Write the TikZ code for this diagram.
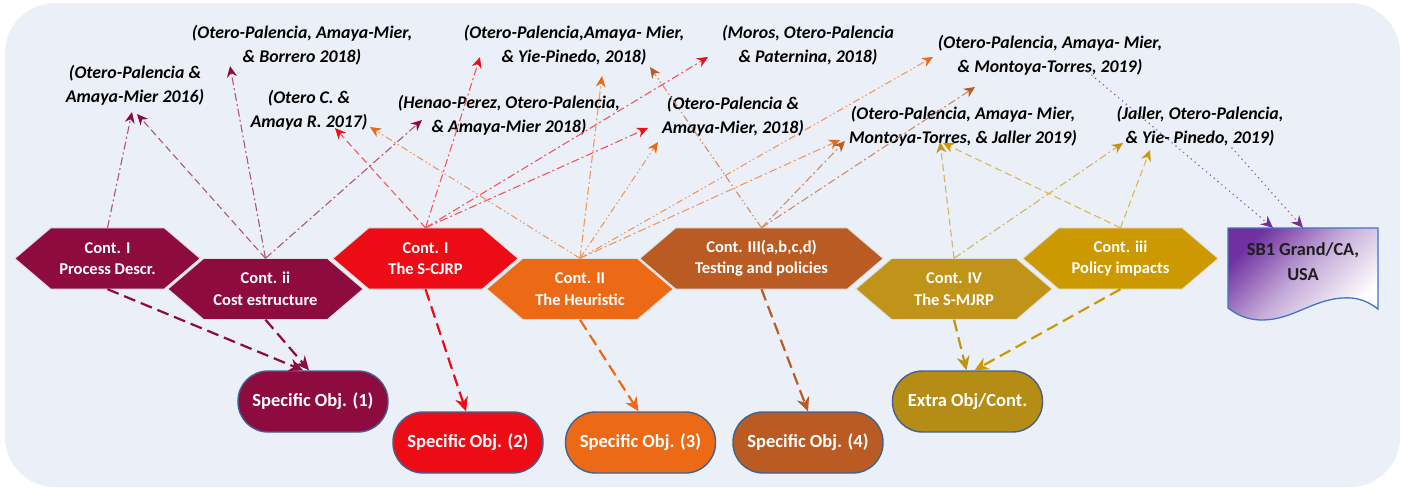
\documentclass[tikz,border=0pt]{standalone}
\usepackage{fontspec}
\setmainfont{Carlito}
\usetikzlibrary{arrows.meta,calc}
\pgfdeclarelayer{back}
\pgfsetlayers{back,main}

\definecolor{cbg}{RGB}{235,240,248}
\definecolor{cmaroon}{RGB}{142,11,64}
\definecolor{cred}{RGB}{237,12,22}
\definecolor{corange}{RGB}{236,106,22}
\definecolor{cbrown}{RGB}{185,91,35}
\definecolor{colive}{RGB}{191,148,24}
\definecolor{cgold}{RGB}{204,153,0}
\definecolor{cextra}{RGB}{180,140,22}
\definecolor{cpurple}{RGB}{112,48,160}
\definecolor{cborder}{RGB}{65,98,145}
\definecolor{cdocline}{RGB}{68,114,196}
\definecolor{cdoctext}{RGB}{30,30,30}

\newcommand\reffont{\fontsize{17.8}{24}\selectfont\bfseries\itshape}
\newcommand\hexfont{\fontsize{16.5}{21.5}\selectfont\bfseries}
\newcommand\objfont{\fontsize{18.5}{22}\selectfont\bfseries}
\newcommand\docfont{\fontsize{18.3}{25}\selectfont\bfseries}

\begin{document}
\begin{tikzpicture}[x=1pt,y=-1pt,
  hexbox/.style={minimum height=61pt, inner sep=0pt, text=white, font=\hexfont, align=center},
  objbox/.style={minimum width=150pt, minimum height=61pt, rounded corners=30pt, inner sep=0pt,
    text=white, font=\objfont, draw=cborder, line width=1.4pt},
  citation/.style={font=\reffont, align=center, text=black, inner sep=1pt},
  toplink/.style={line width=1.1pt, draw=#1!70!white, -{Stealth[length=11pt,width=10pt,color=#1]}},
  objlink/.style={line width=2.2pt, draw=#1, dash pattern=on 12pt off 6pt,
    -{Stealth[length=14pt,width=13pt,color=#1]}},
  doclink/.style={line width=1.7pt, draw=cpurple!80!white, dash pattern=on 0pt off 5pt, line cap=round,
    -{Stealth[length=12pt,width=11pt,color=cpurple]}},
  dashdot/.style={dash pattern=on 8pt off 3pt on 2pt off 3pt},
  dashdotdot/.style={dash pattern=on 7pt off 3pt on 1.5pt off 2.5pt on 1.5pt off 3pt},
  longdash/.style={dash pattern=on 7pt off 4pt},
  ]
\useasboundingbox (0,0) rectangle (1404,489);

% contribution hexagons (text boxes; outlines are filled on the back layer)
\node[hexbox, minimum width=113pt] (h1) at (107.5,258.5) {Cont. I\\Process Descr.};
\node[hexbox, minimum width=123pt] (h2) at (265.5,289) {Cont. ii\\Cost estructure};
\node[hexbox, minimum width=113pt] (h3) at (425.5,258.5) {Cont. I\\The S-CJRP};
\node[hexbox, minimum width=114pt] (h4) at (580,289) {Cont. II\\The Heuristic};
\node[hexbox, minimum width=171pt] (h5) at (761.5,258.5) {Cont. III(a,b,c,d)\\Testing and policies};
\node[hexbox, minimum width=124pt] (h6) at (954,289) {Cont. IV\\The S-MJRP};
\node[hexbox, minimum width=123pt] (h7) at (1120.5,258.5) {Cont. iii\\Policy impacts};

% objectives
\node[objbox, fill=cmaroon] (s1) at (313,401.5) {Specific Obj. (1)};
\node[objbox, fill=cred] (s2) at (468,442.5) {Specific Obj. (2)};
\node[objbox, fill=corange] (s3) at (640.5,442.5) {Specific Obj. (3)};
\node[objbox, fill=cbrown] (s4) at (808,442.5) {Specific Obj. (4)};
\node[objbox, fill=cextra] (s5) at (967.5,401.5) {Extra Obj/Cont.};

% case study document
\node[font=\docfont, align=center, minimum width=150pt, minimum height=68pt, inner sep=0pt,
  text=cdoctext] (sb) at (1303,262) {SB1 Grand/CA,\\USA};

% publications
\node[citation] (t1) at (135,85) {(Otero-Palencia \&\\Amaya-Mier 2016)};
\node[citation] (t2) at (302,45) {(Otero-Palencia, Amaya-Mier,\\\& Borrero 2018)};
\node[citation] (t3) at (309,110) {(Otero C. \&\\Amaya R. 2017)};
\node[citation] (t4) at (509,115) {(Henao-Perez, Otero-Palencia,\\\& Amaya-Mier 2018)};
\node[citation] (t5) at (574,45) {(Otero-Palencia,Amaya- Mier,\\\& Yie-Pinedo, 2018)};
\node[citation] (t6) at (808,45) {(Moros, Otero-Palencia\\\& Paternina, 2018)};
\node[citation] (t7) at (733,116) {(Otero-Palencia \&\\Amaya-Mier, 2018)};
\node[citation] (t8) at (1050,55) {(Otero-Palencia, Amaya- Mier,\\\& Montoya-Torres, 2019)};
\node[citation] (t9) at (963,126) {(Otero-Palencia, Amaya- Mier,\\Montoya-Torres, \& Jaller 2019)};
\node[citation] (t10) at (1200,126) {(Jaller, Otero-Palencia,\\\& Yie- Pinedo, 2019)};

\begin{pgfonlayer}{back}
  \fill[white] (0,0) rectangle (1404,489);
  \fill[cbg, rounded corners=50pt] (5,3) rectangle (1400,487);
  \foreach \n/\c in {h1/cmaroon,h2/cmaroon,h3/cred,h4/corange,h5/cbrown,h6/colive,h7/cgold}
    \filldraw[fill=\c, draw=white!88!black, line width=1pt]
      (\n.north west) -- (\n.north east) -- ([xshift=36pt]\n.east) -- (\n.south east)
      -- (\n.south west) -- ([xshift=-36pt]\n.west) -- cycle;
  \path[draw=cdocline, line width=1.3pt, top color=cpurple, bottom color=white,
      middle color=cpurple!40!white, shading angle=45]
    (1228,228) -- (1378,228) -- (1378,309)
    .. controls (1366,300) and (1356,297) .. (1342,298)
    .. controls (1312,300) and (1292,320) .. (1262,320)
    .. controls (1246,320) and (1236,314) .. (1228,308) -- cycle;
\end{pgfonlayer}

% links from contributions to publications
\draw[toplink=cmaroon, dashdot] (h1.north) -- ($(t1)+(-3,27)$);
\draw[toplink=cmaroon, longdash] (h2.north) -- ($(t1)+(2,29)$);
\draw[toplink=cmaroon, dashdot] (h2.north) -- ($(t2)+(-72,21)$);
\draw[toplink=cmaroon, dashdot] (h2.north) -- ($(t4)+(-87,5)$);
\draw[toplink=cred, longdash] (h3.north) -- ($(t3)+(26,18)$);
\draw[toplink=cred, dashdot] (h3.north) -- ($(t5)+(-94,12)$);
\draw[toplink=cred, dashdot] (h3.north) -- ($(t6)+(-100,12)$);
\draw[toplink=cred, dashdot] (h3.north) -- ($(t7)+(-85,12)$);
\draw[toplink=corange, dashdotdot] (h4.north) -- ($(t3)+(61,17)$);
\draw[toplink=corange, dashdot] (h4.north) -- ($(t5)+(28,31)$);
\draw[toplink=corange, dashdotdot] (h4.north) -- ($(t7)+(-75,26)$);
\draw[toplink=corange, dashdotdot] (h4.north) -- ($(t8)+(-117,2)$);
\draw[toplink=corange, dashdot] (h4.north) -- ($(t9)+(-123,14)$);
\draw[toplink=cbrown, dashdotdot] (h5.north) -- ($(t5)+(76,22)$);
\draw[toplink=cbrown, dashdot] (h5.north) -- ($(t9)+(-118,15)$);
\draw[toplink=cbrown, dashdot] (h5.north) -- ($(t8)+(-75,32)$);
\draw[toplink=colive, longdash] (h6.north) -- ($(t9)+(-23,16)$);
\draw[toplink=colive, dashdot] (h6.north) -- ($(t10)+(-77,17)$);
\draw[toplink=cgold, longdash] (h7.north) -- ($(t9)+(-20,17)$);
\draw[toplink=cgold, longdash] (h7.north) -- ($(t10)+(-50,24)$);

% links from contributions to objectives
\draw[objlink=cmaroon] (h1.south) -- ([xshift=-10pt]s1.north);
\draw[objlink=cmaroon] (h2.south) -- ([xshift=-4pt]s1.north);
\draw[objlink=cred] (h3.south) -- ([xshift=-2pt]s2.north);
\draw[objlink=corange] (h4.south) -- ([xshift=-2pt]s3.north);
\draw[objlink=cbrown] (h5.south) -- (s4.north);
\draw[objlink=colive] (h6.south) -- ([xshift=-1pt]s5.north);
\draw[objlink=cgold] (h7.south) -- ([xshift=7pt]s5.north);

% links from publications to the case study
\draw[doclink] ($(t8)+(38,17)$) -- ([xshift=-30pt]sb.north);
\draw[doclink] ($(t10)+(32,22)$) -- (sb.north);
\end{tikzpicture}
\end{document}
